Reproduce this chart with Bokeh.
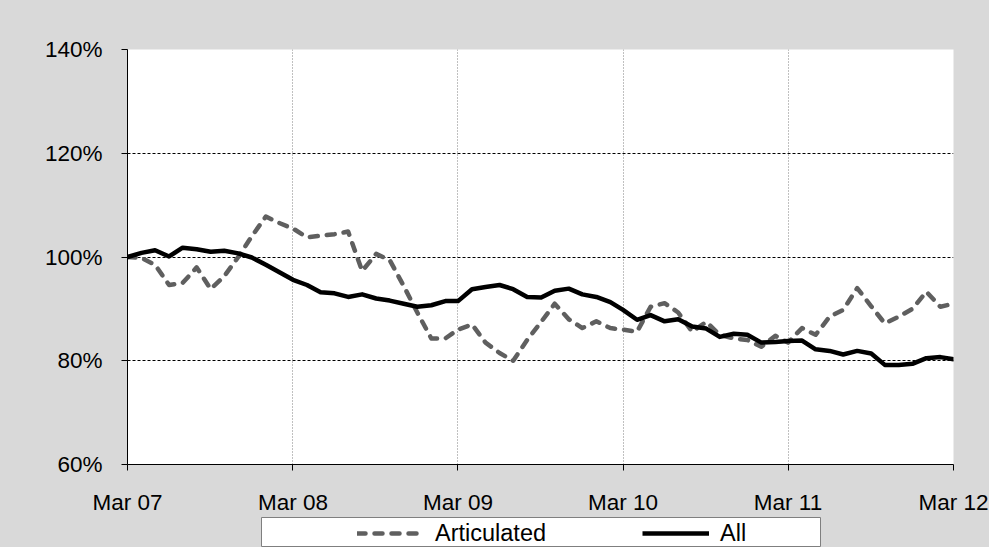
import pandas as pd
from bokeh.plotting import figure
from bokeh.layouts import column
from bokeh.models import (Range1d, FixedTicker, DatetimeTickFormatter, PrintfTickFormatter,
                          Legend, LegendItem)
from bokeh.embed import file_html
from bokeh.resources import INLINE

# ---- data (monthly index, Mar 2007 = 100%) ----
months = pd.date_range("2007-03-01", periods=61, freq="MS")
articulated = [
    100, 99.8, 98.5, 94.6, 95.0, 98.0, 93.8, 96.3, 100.0, 104.0, 107.8, 106.5,
    105.5, 103.8, 104.1, 104.4, 104.9, 97.3, 100.6, 99.4, 94.4, 89.3, 84.3, 84.3,
    86.0, 87.0, 83.5, 81.5, 80.0, 84.0, 87.5, 91.0, 88.0, 86.3, 87.6, 86.3,
    86.0, 85.6, 90.4, 91.1, 89.3, 85.6, 87.5, 85.0, 84.3, 84.0, 82.7, 84.8,
    83.5, 86.3, 85.0, 88.5, 89.8, 94.0, 90.5, 87.2, 88.5, 90.0, 93.3, 90.4,
    91.0,
]
all_vals = [
    100, 100.8, 101.3, 100.1, 101.8, 101.5, 101.0, 101.2, 100.7, 99.9, 98.5, 97.0,
    95.6, 94.6, 93.2, 93.0, 92.3, 92.8, 92.0, 91.6, 91.0, 90.4, 90.7, 91.5,
    91.5, 93.8, 94.2, 94.6, 93.8, 92.3, 92.2, 93.5, 93.9, 92.8, 92.3, 91.3,
    89.8, 87.9, 88.8, 87.6, 88.0, 86.6, 86.2, 84.6, 85.2, 85.0, 83.5, 83.6,
    83.8, 83.9, 82.2, 81.9, 81.2, 81.9, 81.4, 79.2, 79.2, 79.4, 80.5, 80.7,
    80.3,
]
x_tick_dates = ["2007-03-01", "2008-03-01", "2009-03-01", "2010-03-01", "2011-03-01", "2012-03-01"]
y_ticks = [60, 80, 100, 120, 140]
series_names = ["Articulated", "All"]

FONT = "Liberation Sans"
FSIZE = "22.5px"
BG = "#d9d9d9"
ART_COLOR = "#5f5f5f"
ART_DASH = "8 9"
tick_ms = [pd.Timestamp(d).value / 1e6 for d in x_tick_dates]

W = 989
p = figure(width=W, height=517, output_backend="svg", toolbar_location=None,
           x_axis_type="datetime",
           x_range=Range1d(tick_ms[0], tick_ms[-1]), y_range=Range1d(60, 140),
           min_border_left=127, min_border_right=36, min_border_top=49, min_border_bottom=53)
p.frame_align = False
p.border_fill_color = BG
p.background_fill_color = "white"
p.outline_line_color = None

# axes
p.xaxis.ticker = FixedTicker(ticks=tick_ms)
p.xaxis.formatter = DatetimeTickFormatter(years="%b %y", months="%b %y", days="%b %y",
                                          hours="%b %y", minutes="%b %y")
p.yaxis.ticker = FixedTicker(ticks=y_ticks)
p.yaxis.formatter = PrintfTickFormatter(format="%d%%")
for ax in (p.xaxis, p.yaxis):
    ax.axis_line_color = "black"
    ax.axis_line_width = 1
    ax.major_tick_line_color = "black"
    ax.major_tick_out = 6
    ax.major_tick_in = 0
    ax.minor_tick_line_color = None
    ax.major_label_text_font = FONT
    ax.major_label_text_font_size = FSIZE
    ax.major_label_text_color = "black"
p.xaxis.major_label_standoff = 19
p.yaxis.major_label_standoff = 19

# grids
p.ygrid.grid_line_color = "black"
p.ygrid.grid_line_dash = "3 2"
p.ygrid.grid_line_width = 1
p.xgrid.grid_line_color = "#808080"
p.xgrid.grid_line_dash = "1 2"
p.xgrid.grid_line_width = 1

p.line(months, articulated, line_color=ART_COLOR, line_width=4.5,
       line_dash=ART_DASH, line_cap="round", line_join="round")
p.line(months, all_vals, line_color="black", line_width=4.5,
       line_join="round", line_cap="round")

# ---- legend strip (white box below the axis) ----
lg = figure(width=W, height=30, output_backend="svg", toolbar_location=None,
            x_axis_location=None, y_axis_location=None,
            x_range=Range1d(0, 1), y_range=Range1d(0, 1),
            min_border_left=261, min_border_right=169, min_border_top=0, min_border_bottom=0)
lg.frame_align = False
lg.border_fill_color = BG
lg.background_fill_color = "white"
lg.outline_line_color = "#7f7f7f"
lg.outline_line_width = 1
lg.xgrid.visible = False
lg.ygrid.visible = False
# legend-only renderers: their points lie outside the strip's range
la = lg.line([5, 6], [5, 6], line_color=ART_COLOR, line_width=4.5, line_dash=ART_DASH, line_cap="round")
lb = lg.line([5, 6], [5, 6], line_color="black", line_width=4.5)
legend = Legend(items=[LegendItem(label=series_names[0], renderers=[la]),
                       LegendItem(label=series_names[1], renderers=[lb])],
                location=(96, 0), orientation="horizontal",
                padding=0, spacing=95, margin=0,
                glyph_width=67, glyph_height=28, label_height=28, label_width=112,
                label_standoff=11, background_fill_alpha=0, border_line_color=None,
                label_text_font=FONT, label_text_font_size="23.5px", label_text_color="black")
lg.add_layout(legend, "center")

layout = column(p, lg, spacing=0)
layout.styles = {"gap": "0px", "background-color": BG}
open("out.html", "w").write(file_html(layout, INLINE))
